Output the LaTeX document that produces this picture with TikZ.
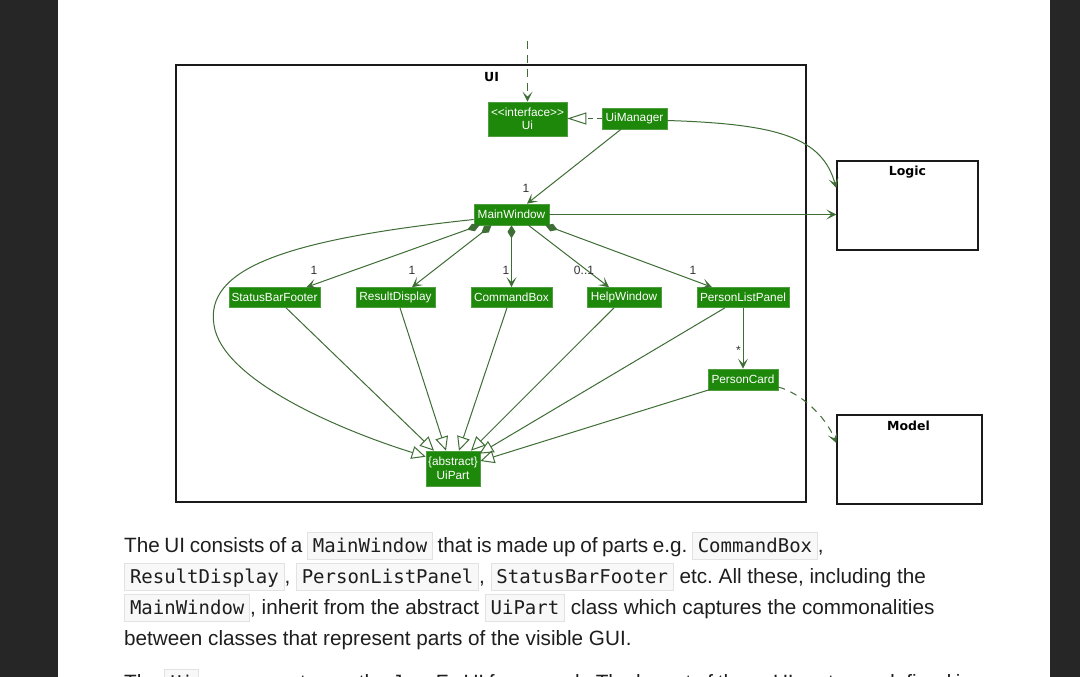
\documentclass[tikz,border=0pt]{standalone}
\usepackage{fontspec}
\setmainfont{Liberation Sans}
\setmonofont{DejaVu Sans Mono}
\newfontfamily\dvs{DejaVu Sans}
\usetikzlibrary{arrows.meta,calc}
\definecolor{nodefill}{HTML}{1E880A}
\definecolor{nodeline}{HTML}{4F9E3F}
\definecolor{edgec}{HTML}{3E6D36}
\definecolor{darkbar}{HTML}{262626}
\definecolor{bodytext}{HTML}{1E1E1E}
\definecolor{codebg}{HTML}{F8F8F8}
\definecolor{codeline}{HTML}{E2E2E2}
\definecolor{labelc}{HTML}{333333}
\definecolor{boxc}{HTML}{1A1A1A}
\newcommand\codebox[1]{{\setlength\fboxsep{0pt}\setlength\fboxrule{0.8pt}\fcolorbox{codeline}{codebg}{\rule[-7pt]{0pt}{26pt}\hspace{5pt}{\ttfamily\fontsize{19}{22}\selectfont #1}\hspace{5pt}}}}
\tikzset{
  cls/.style={fill=nodefill, draw=nodeline, line width=0.6pt, text=white, inner sep=0pt,
    font=\fontsize{11.8}{13.5}\selectfont, align=center},
  pkgbox/.style={draw=boxc, line width=1.4pt, inner sep=0pt},
  pkglbl/.style={font=\dvs\bfseries\fontsize{12.5}{14}\selectfont, text=black, inner sep=0pt},
  mult/.style={font=\fontsize{12}{14}\selectfont, text=labelc, inner sep=0pt},
  conn/.style={draw=edgec, line width=1pt},
  openhead/.style={conn, -{Stealth[length=10pt,width=10pt,inset=5pt]}},
  comphead/.style={conn, {Diamond[length=13pt,width=8pt]}-{Stealth[length=10pt,width=10pt,inset=5pt]}},
  inhhead/.style={conn, -{Triangle[open,length=14pt,width=13pt]}},
  dashline/.style={dash pattern=on 8pt off 6pt},
  body/.style={anchor=base west, inner sep=0pt, text=bodytext,
    font=\frenchspacing\fontsize{20.7}{24}\selectfont},
}
\begin{document}
\begin{tikzpicture}[x=1pt,y=-1pt]
\useasboundingbox (0,0) rectangle (1080,677);
\fill[white] (58,0) rectangle (1050,677);
\fill[darkbar] (0,0) rectangle (58,677);
\fill[darkbar] (1050,0) rectangle (1080,677);

% package frames
\node[pkgbox, minimum width=630pt, minimum height=437pt] (uipkg) at (491,283.5) {};
\node[pkglbl] (uilbl) at (491.5,77) {UI};
\node[pkgbox, minimum width=141pt, minimum height=89pt] (logic) at (907.5,205.5) {};
\node[pkglbl] (logiclbl) at (907.5,172) {Logic};
\node[pkgbox, minimum width=145pt, minimum height=89pt] (model) at (909.5,459.5) {};
\node[pkglbl] (modellbl) at (908.5,425.5) {Model};

% classes
\node[cls, minimum width=79pt, minimum height=34pt] (ui) at (527.5,119) {<\kern0pt<interface>\kern0pt>\\Ui};
\node[cls, minimum width=65pt, minimum height=21pt] (um) at (634.5,118.5) {UiManager};
\node[cls, minimum width=75pt, minimum height=21pt] (mw) at (511.5,214.5) {MainWindow};
\node[cls, minimum width=91pt, minimum height=20pt] (sbf) at (274.5,297.5) {StatusBarFooter};
\node[cls, minimum width=79pt, minimum height=20pt] (rd) at (395.5,297.5) {ResultDisplay};
\node[cls, minimum width=81pt, minimum height=20pt] (cb) at (511.5,297.5) {CommandBox};
\node[cls, minimum width=74pt, minimum height=20pt] (hw) at (624,297.5) {HelpWindow};
\node[cls, minimum width=92pt, minimum height=20pt] (plp) at (743,297.5) {PersonListPanel};
\node[cls, minimum width=70pt, minimum height=21pt] (pc) at (743,379.5) {PersonCard};
\node[cls, minimum width=54pt, minimum height=35pt] (up) at (453,468.5) {\{abstract\}\\UiPart};

% connectors
\coordinate (topin) at (527.5,41);
\draw[openhead, dashline] (topin) -- (ui.north);
\draw[conn, dash pattern=on 5pt off 4pt, -{Triangle[open,length=19pt,width=12pt]}] (um.west) -- (ui.east |- um.west);
\draw[openhead] ($(um.south)+(-13.5,0)$) -- ($(mw.north)+(15.5,0)$);
\node[mult] (m0) at (526,188) {1};
\draw[openhead] ($(um.east)+(0,2)$) .. controls (780,124) and (822,138) .. ($(logic.west)+(0,-17.5)$);
\draw[openhead] (mw.east) -- (mw.east -| logic.west);

\draw[comphead] ($(mw.south)+(-32,0)$) -- ($(sbf.north)+(32,0)$);
\node[mult] (m1) at (314,270) {1};
\draw[comphead] ($(mw.south)+(-20,0)$) -- ($(rd.north)+(16.5,0)$);
\node[mult] (m2) at (412,270) {1};
\draw[comphead] (mw.south) -- (cb.north);
\node[mult] (m3) at (506,270) {1};
\draw[openhead] ($(mw.south)+(17,0)$) -- ($(hw.north)+(-15,0)$);
\node[mult] (m4) at (584,270) {0..1};
\draw[comphead] ($(mw.south)+(34,0)$) -- ($(plp.north)+(-31,0)$);
\node[mult] (m5) at (693,270) {1};

\draw[openhead] (plp.south) -- (pc.north);
\node[mult] (m6) at (738.5,350) {*};
\draw[openhead, dash pattern=on 7pt off 6pt] ($(pc.east)+(0,7.5)$) .. controls (800,393) and (825,415) .. ($(model.west)+(0,-16.5)$);

\draw[inhhead] ($(sbf.south)+(11.5,0)$) -- ($(up.north)+(-19,0)$);
\draw[inhhead] ($(rd.south)+(4.5,0)$) -- ($(up.north)+(-7,0)$);
\draw[inhhead] ($(cb.south)+(-4.5,0)$) -- ($(up.north)+(6,0)$);
\draw[inhhead] ($(hw.south)+(-10,0)$) -- ($(up.north)+(18,0)$);
\draw[inhhead] ($(plp.south)+(-18,0)$) -- ($(up.north east)+(-1,3)$);
\draw[inhhead] ($(pc.south west)+(3,-1)$) -- ($(up.east)+(0,-7.5)$);
\draw[inhhead] ($(mw.west)+(0,5)$) .. controls (280,240) and (205,270) .. (214,325)
   .. controls (222,380) and (340,430) .. ($(up.north west)+(0,6)$);

% text below
\node[body] (t1) at (124,552) {\spaceskip=4.6pt The UI consists of a \codebox{MainWindow} that is made up of parts e.g. \codebox{CommandBox},};
\node[body] (t2) at (124,583) {\codebox{ResultDisplay}, \codebox{PersonListPanel}, \codebox{StatusBarFooter} etc. All these, including the};
\node[body] (t3) at (124,614) {\codebox{MainWindow}, inherit from the abstract \codebox{UiPart} class which captures the commonalities};
\node[body] (t4) at (124,645) {between classes that represent parts of the visible GUI.};
\node[body] (t5) at (124,689) {\spaceskip=4.6pt The \codebox{Ui} component uses the JavaFx UI framework. The layout of these UI parts are defined in};
\end{tikzpicture}
\end{document}
